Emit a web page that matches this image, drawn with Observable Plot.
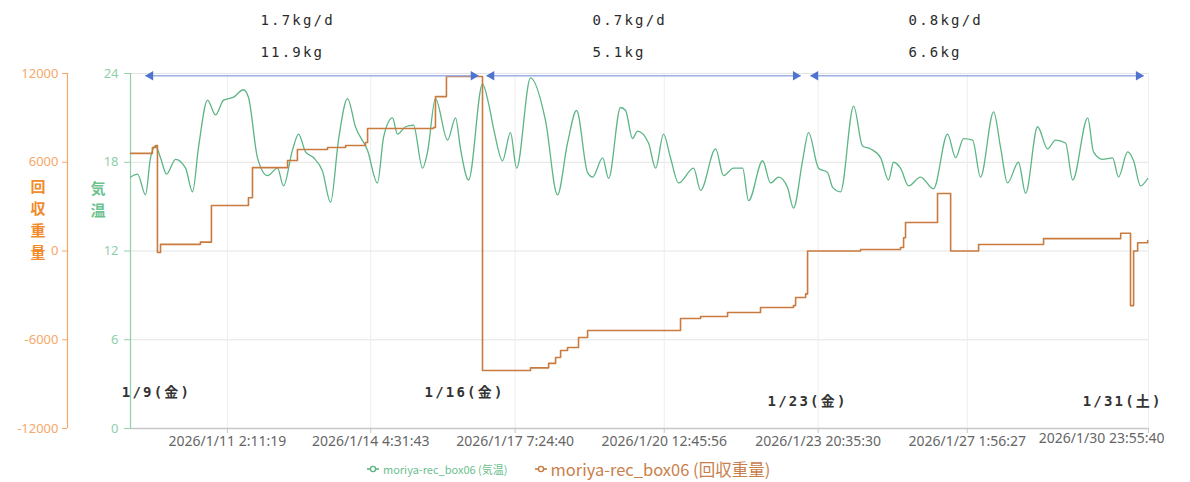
<!DOCTYPE html>
<html>
<head>
<meta charset="utf-8">
<script src="https://cdn.jsdelivr.net/npm/d3@7"></script>
<script src="https://cdn.jsdelivr.net/npm/@observablehq/plot@0.6"></script>
<style>
  html, body { margin: 0; padding: 0; background: #fff; }
  #wrap { position: relative; width: 1190px; height: 482px; overflow: hidden; }
  #legend { position: absolute; top: 457px; left: 366px; display: flex; align-items: center; gap: 26px;
            font-family: "Noto Sans CJK JP", "Noto Sans", sans-serif; font-size: 11px; }
  #legend .item { display: flex; align-items: center; gap: 3px; }
</style>
</head>
<body>
<div id="wrap"><div id="chart"></div><div id="legend"></div></div>
<script>
// ---------- data ----------
const seriesNames = ["moriya-rec_box06 (気温)", "moriya-rec_box06 (回収重量)"];
const tempAxisName = "気温";
const weightAxisName = "回収重量";

// hours since 2026-01-09 00:00
const tempHours = [0,3.6,7.7,10.3,12.9,15.5,18.6,23.3,28.5,32.1,
  35.2,39.9,44.0,48.2,53.4,58.5,61.1,65.8,71.0,76.2,
  79.3,83.9,87.1,90.7,94.9,99.5,103.7,107.8,112.5,116.6,
  122.9,128.0,131.2,135.8,138.4,142.6,146.7,151.4,154.0,158.1,
  164.4,168.5,171.1,175.3,182.5,185.6,188.7,192.9,197.0,200.2,
  207.4,215.2,221.4,226.6,231.3,237.0,239.6,244.8,247.9,254.1,
  256.7,260.3,262.9,268.6,272.3,276.4,280.0,284.2,292.0,295.6,
  303.4,307.5,312.7,317.4,320.5,327.8,331.9,336.1,340.7,343.8,
  348.5,351.6,356.8,361.5,364.1,368.2,375.0,379.6,383.8,389.0,
  393.1,395.7,399.3,403.5,409.7,416.4,423.7,427.9,432.0,436.7,
  440.8,447.6,451.2,454.8,460.5,464.2,470.4,475.6,479.7,484.9,
  488.6,496.4,499.4,504.1,509.3,512.4,517.1,520.2,523.8,527.5];
const tempC = [17.0,17.2,15.8,18.3,19.1,18.3,17.2,18.2,17.6,16.0,
  19.0,22.2,21.2,22.2,22.4,22.9,22.4,18.3,17.1,17.6,
  16.4,18.8,19.9,18.7,18.3,17.4,15.3,19.5,22.3,20.4,
  18.8,16.6,19.7,21.0,19.9,20.4,20.5,17.6,18.7,22.3,
  19.5,21.0,18.9,16.8,23.3,22.0,20.0,18.1,20.0,17.6,
  23.7,20.8,15.8,19.3,21.5,17.3,17.0,18.3,16.9,21.7,
  21.5,19.6,20.1,19.3,17.6,19.9,18.3,16.6,17.6,16.1,
  18.9,17.1,17.6,17.6,15.4,18.1,16.6,17.0,16.3,14.9,
  18.1,20.0,17.6,17.3,16.3,16.0,21.8,19.1,18.9,18.3,
  16.8,18.0,17.6,16.4,17.0,16.2,19.9,18.3,19.6,19.5,
  17.0,21.4,19.0,16.6,18.0,15.9,20.4,18.9,19.5,19.3,
  16.8,21.0,18.7,18.2,18.3,17.0,18.7,18.1,16.4,16.9];

const weightHours = [0,11.3,12.9,13.9,15.5,36.2,41.9,61.1,63.2,81.4,
  86.5,102.1,111.5,121.8,122.9,157.1,158.1,163.8,182.5,207.4,
  216.8,220.4,223.0,226.6,232.3,237.0,285.2,295.6,309.6,326.7,
  343.8,344.9,350.1,351.1,378.6,399.3,400.9,401.9,418.5,425.3,
  439.8,473.5,513.5,518.6,520.2,522.3,527.5];
const weightG = [6600,7000,7130,-100,450,600,3075,3600,5640,6120,
  6860,7000,7130,7340,8280,8350,10440,11800,-8080,-7900,
  -7600,-7200,-6730,-6525,-5850,-5375,-4560,-4430,-4160,-3820,
  -3690,-3140,-2900,0,100,240,900,1930,3890,0,
  440,840,1200,-3690,0,560,700];

const tempTicks = [0, 6, 12, 18, 24];
const weightTicks = [-12000, -6000, 0, 6000, 12000];
const xTickLabels = ["2026/1/11 2:11:19","2026/1/14 4:31:43","2026/1/17 7:24:40",
  "2026/1/20 12:45:56","2026/1/23 20:35:30","2026/1/27 1:56:27","2026/1/30 23:55:40"];
const xStartLabel = "2026/1/8 23:55:40";

// collection periods
const segStartH = [7.7, 184.6, 352.6];
const segEndH = [180.4, 347.5, 525.4];
const segLabelH = [67.3, 239.6, 403.5];
const segRate = ["1.7kg/d", "0.7kg/d", "0.8kg/d"];
const segTotal = ["11.9kg", "5.1kg", "6.6kg"];

// date annotations
const dateText = ["1/9(金)", "1/16(金)", "1/23(金)", "1/31(土)"];
const dateH = [13.4, 173.2, 351.1, 514.5];
const dateLevel = [2.4, 2.4, 1.8, 1.8];

// ---------- helpers ----------
const base = Date.UTC(2026, 0, 9);
const hDate = h => new Date(base + h * 3600e3);
const parseLabel = s => {
  const [d, t] = s.split(" ");
  const [Y, M, D] = d.split("/").map(Number);
  const [hh, mm, ss] = t.split(":").map(Number);
  return new Date(Date.UTC(Y, M - 1, D, hh, mm, ss));
};
const tDom = [tempTicks[0], tempTicks[tempTicks.length - 1]];
const wDom = [weightTicks[0], weightTicks[weightTicks.length - 1]];
const wToY = w => tDom[0] + (w - wDom[0]) / (wDom[1] - wDom[0]) * (tDom[1] - tDom[0]);
const yToW = y => wDom[0] + (y - tDom[0]) / (tDom[1] - tDom[0]) * (wDom[1] - wDom[0]);

const xTicks = xTickLabels.map(parseLabel);
const lastTick = xTicks[xTicks.length - 1];
const xDomain = [parseLabel(xStartLabel), lastTick];
const labelOf = new Map(xTicks.map((d, i) => [+d, xTickLabels[i]]));

const temp = tempHours.map((h, i) => ({t: hDate(h), v: tempC[i]}));
const weight = weightHours.map((h, i) => ({t: hDate(h), y: wToY(weightG[i])}));
const segs = segStartH.map((s, i) => ({
  s: hDate(s), e: hDate(segEndH[i]), lab: hDate(segLabelH[i]),
  rate: segRate[i], total: segTotal[i]
}));
const dates = dateText.map((t, i) => ({t: hDate(dateH[i]), text: t, y: dateLevel[i]}));
const arrowY = 23.85;

const GREEN = "#5cb585", ORANGE_LINE = "#c97a3e";
const GREEN_AX = "#8fd0aa", ORANGE_AX = "#f5a86a";
const BLUE = "#4f73cf";

const chart = Plot.plot({
  width: 1190, height: 455,
  marginTop: 73, marginBottom: 27, marginLeft: 130, marginRight: 42,
  style: {fontFamily: "'Noto Sans', sans-serif", fontSize: "13px", background: "white", overflow: "visible"},
  x: {type: "utc", domain: xDomain, axis: null},
  y: {type: "linear", domain: tDom, axis: null},
  marks: [
    Plot.gridY(tempTicks.slice(1), {stroke: "#e4e4e4", strokeOpacity: 1}),
    Plot.gridX(xTicks, {stroke: "#eeeeee", strokeOpacity: 1}),
    // axes
    Plot.ruleY([tDom[0]], {stroke: "#c8c8c8", strokeWidth: 1.5}),
    Plot.axisX(xTicks, {tickSize: 5, tickPadding: 3, stroke: "#c8c8c8", fill: "#666",
      fontSize: 14, tickFormat: d => (+d === +lastTick ? "" : labelOf.get(+d))}),
    Plot.text([lastTick], {x: d => d, frameAnchor: "bottom", dy: 14, dx: 16, textAnchor: "end",
      fill: "#666", fontSize: 14, text: d => labelOf.get(+d)}),
    Plot.ruleX([xDomain[0]], {stroke: GREEN_AX, strokeWidth: 1.2}),
    Plot.axisY(tempTicks, {anchor: "left", tickSize: 6, tickPadding: 6, stroke: GREEN_AX, fill: GREEN_AX, fontSize: 13}),
    Plot.ruleX([xDomain[0]], {dx: -63, stroke: ORANGE_AX, strokeWidth: 1.2}),
    Plot.axisY(weightTicks.map(wToY), {anchor: "left", dx: -63, tickSize: 5, tickPadding: 4,
      stroke: ORANGE_AX, fill: ORANGE_AX, fontSize: 13, tickFormat: y => String(Math.round(yToW(y)))}),
    Plot.text([weightAxisName.split("").join("\n")], {frameAnchor: "left", dx: -100, dy: -33, lineHeight: 1.45,
      fontSize: 15, fontWeight: "bold", fill: "#f28b2c", fontFamily: "'Noto Sans CJK JP', sans-serif"}),
    Plot.text([tempAxisName.split("").join("\n")], {frameAnchor: "left", dx: -40, dy: -53, lineHeight: 1.45,
      fontSize: 15, fontWeight: "bold", fill: "#6cc390", fontFamily: "'Noto Sans CJK JP', sans-serif"}),
    // series
    Plot.line(temp, {x: "t", y: "v", curve: "monotone-x", stroke: GREEN, strokeWidth: 1.3}),
    Plot.line(weight, {x: "t", y: "y", curve: "step-after", stroke: ORANGE_LINE, strokeWidth: 1.6}),
    // period arrows
    Plot.link(segs, {x1: "s", x2: "e", y1: arrowY, y2: arrowY, stroke: "#9db0e6", strokeWidth: 1.6}),
    Plot.dot(segs, {x: "s", y: arrowY, symbol: "triangle", rotate: -90, r: 3.5, dx: 5, fill: BLUE, stroke: "none"}),
    Plot.dot(segs, {x: "e", y: arrowY, symbol: "triangle", rotate: 90, r: 3.5, dx: -5, fill: BLUE, stroke: "none"}),
    Plot.text(segs, {x: "lab", y: tDom[1], dy: -53, text: "rate", textAnchor: "start",
      fontSize: 14, fill: "#2a2a2a", fontFamily: "'DejaVu Sans Mono', monospace"}),
    Plot.text(segs, {x: "lab", y: tDom[1], dy: -21, text: "total", textAnchor: "start",
      fontSize: 14, fill: "#2a2a2a", fontFamily: "'DejaVu Sans Mono', monospace"}),
    // date labels
    Plot.text(dates, {x: "t", y: "y", text: "text",
      fontSize: 14, fontWeight: "bold", fill: "#333", fontFamily: "'DejaVu Sans Mono', 'Noto Sans CJK JP', monospace"})
  ]
});
document.getElementById("chart").appendChild(chart);

// letter spacing for the annotation texts
const spaced = new Set([...segRate, ...segTotal, ...dateText]);
d3.select(chart).selectAll("text").each(function () {
  if (spaced.has(this.textContent)) this.setAttribute("style", "letter-spacing: 2.2px");
});

// legend
const legend = d3.select("#legend");
[[seriesNames[0], GREEN, "#6cc08e", "11px"], [seriesNames[1], ORANGE_LINE, "#c9804a", "16.5px"]].forEach(([name, c, tc, fs]) => {
  const it = legend.append("div").attr("class", "item");
  const s = it.append("svg").attr("width", 14).attr("height", 10);
  s.append("line").attr("x1", 1).attr("x2", 13).attr("y1", 5).attr("y2", 5).attr("stroke", c).attr("stroke-width", 1.6);
  s.append("circle").attr("cx", 7).attr("cy", 5).attr("r", 2.6).attr("fill", "#fff").attr("stroke", c).attr("stroke-width", 1.4);
  it.append("span").style("color", tc).style("font-size", fs).text(name);
});
</script>
</body>
</html>
